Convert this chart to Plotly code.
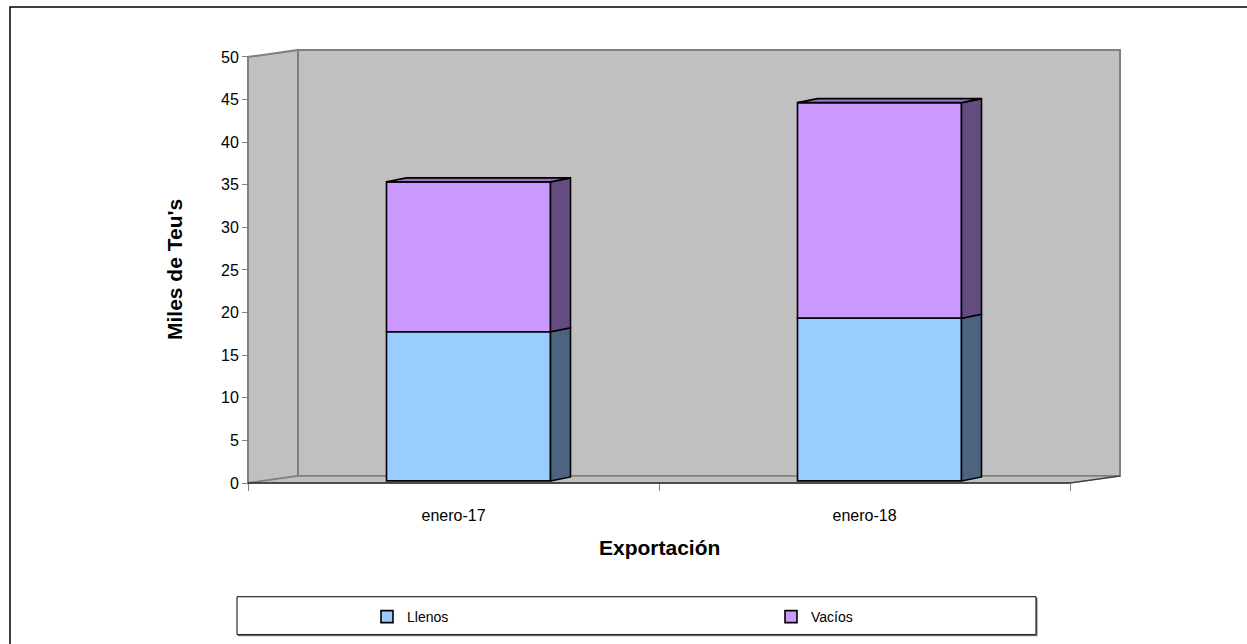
import plotly.graph_objects as go

# ---- data ----
categories = ["enero-17", "enero-18"]
llenos = [17.5, 19.1]
vacios = [17.6, 25.3]
series_names = ["Llenos", "Vacíos"]
y_ticks = [0, 5, 10, 15, 20, 25, 30, 35, 40, 45, 50]
x_title = "Exportación"
y_title = "Miles de Teu's"

# ---- layout constants (pixels of the reference) ----
W, H = 1247, 644
SX = 411.0          # px per category unit
SY = 8.54           # px per y unit
X0PX, Y0PX = 248.0, 484.0   # pixel of (x=-0.5, y=0)
DX, DY = 50 / SX, 7 / SY    # wall depth
PADX, PADY = 4 / SX, 3 / SY
BOFFX, BOFFY = 15 / SX, 2.1 / SY   # bar front-face depth offset
SDX, SDY = 20 / SX, 4 / SY         # bar depth
BW = 164 / SX
YMAX = 50

xr = [-0.5 - PADX, 1.5 + DX + PADX]
yr = [-PADY, YMAX + DY + PADY]
plot_left = X0PX - PADX * SX
plot_w = (xr[1] - xr[0]) * SX
plot_bottom = Y0PX + PADY * SY
plot_h = (yr[1] - yr[0]) * SY
ml, mr = plot_left, W - plot_left - plot_w
mb, mt = H - plot_bottom, plot_bottom - plot_h


def px2paper(px, py):
    return (px - plot_left) / plot_w, (plot_bottom - py) / plot_h


FONT = "Arial, Liberation Sans, sans-serif"
front_cols = ["#99CCFF", "#CC99FF"]
side_cols = ["#4D6480", "#654C80"]
top_col = "#9A73C2"

fig = go.Figure()

xpos = [i + BOFFX for i in range(len(categories))]
bases = [[BOFFY] * len(categories), [BOFFY + l for l in llenos]]
vals = [llenos, vacios]

for k, (name, v) in enumerate(zip(series_names, vals)):
    fig.add_trace(go.Bar(
        x=xpos, y=v, base=bases[k], width=BW, name=name,
        marker=dict(color=front_cols[k], line=dict(color="black", width=1.6)),
        legend="legend" if k == 0 else "legend2",
        hoverinfo="skip",
    ))

# side faces
for k, v in enumerate(vals):
    xs, ys = [], []
    for i in range(len(categories)):
        b = bases[k][i]
        t = b + v[i]
        xr_ = xpos[i] + BW / 2
        xs += [xr_, xr_ + SDX, xr_ + SDX, xr_, xr_, None]
        ys += [b, b + SDY, t + SDY, t, b, None]
    fig.add_trace(go.Scatter(
        x=xs, y=ys, mode="lines", fill="toself", fillcolor=side_cols[k],
        line=dict(color="black", width=1.6), showlegend=False, hoverinfo="skip",
    ))

# top faces
xs, ys = [], []
for i in range(len(categories)):
    t = bases[1][i] + vacios[i]
    xl_ = xpos[i] - BW / 2
    xr_ = xpos[i] + BW / 2
    xs += [xl_, xl_ + SDX, xr_ + SDX, xr_, xl_, None]
    ys += [t, t + SDY, t + SDY, t, t, None]
fig.add_trace(go.Scatter(
    x=xs, y=ys, mode="lines", fill="toself", fillcolor=top_col,
    line=dict(color="black", width=1.6), showlegend=False, hoverinfo="skip",
))

wall = "#C0C0C0"
edge = "#808080"
shapes = []
# back wall
shapes.append(dict(type="rect", xref="x", yref="y", x0=-0.5 + DX, x1=1.5 + DX, y0=DY, y1=YMAX + DY,
                   fillcolor=wall, line=dict(color=edge, width=2), layer="below"))
# left wall
shapes.append(dict(type="path", xref="x", yref="y",
                   path=f"M{-0.5},0 L{-0.5},{YMAX} L{-0.5 + DX},{YMAX + DY} L{-0.5 + DX},{DY} Z",
                   fillcolor=wall, line=dict(color=edge, width=2), layer="below"))
# floor
shapes.append(dict(type="path", xref="x", yref="y",
                   path=f"M{-0.5},0 L{-0.5 + DX},{DY} L{1.5 + DX},{DY} L{1.5},0 Z",
                   fillcolor=wall, line=dict(color=edge, width=1.5), layer="below"))
# front floor edge
shapes.append(dict(type="line", xref="x", yref="y", x0=-0.5, x1=1.5, y0=0, y1=0,
                   line=dict(color="black", width=1.2), layer="above"))
shapes.append(dict(type="line", xref="x", yref="y", x0=1.5, x1=1.5 + DX, y0=0, y1=DY,
                   line=dict(color="#303030", width=1.2), layer="above"))

# legend box
lx0, ly0 = px2paper(237, 636)
lx1, ly1 = px2paper(1036, 598)
sx0, sy0 = px2paper(238, 637.5)
sx1, sy1 = px2paper(1037.5, 599)
shapes.append(dict(type="rect", xref="paper", yref="paper", x0=sx0, x1=sx1, y0=sy0, y1=sy1,
                   fillcolor="#808080", line=dict(width=0), layer="below"))
shapes.append(dict(type="rect", xref="paper", yref="paper", x0=lx0, x1=lx1, y0=ly0, y1=ly1,
                   fillcolor="white", line=dict(color="black", width=1), layer="below"))
# outer chart border
bx0, by0 = px2paper(10, 660)
bx1, by1 = px2paper(1270, 7)
shapes.append(dict(type="rect", xref="paper", yref="paper", x0=bx0, x1=bx1, y0=by0, y1=by1,
                   line=dict(color="black", width=1.5), layer="below"))

leg1x, legy = px2paper(367, 617)
leg2x, _ = px2paper(771, 617)

# x-axis title centred under the front floor edge
tx, ty = px2paper(X0PX + SX, 549)
annotations = [dict(text=f"<b>{x_title}</b>", xref="paper", yref="paper", x=tx, y=ty,
                    xanchor="center", yanchor="middle", showarrow=False,
                    font=dict(size=21, family=FONT, color="black"))]
ax_, ay_ = px2paper(175, Y0PX - YMAX * SY / 2)
annotations.append(dict(text=f"<b>{y_title}</b>", xref="paper", yref="paper", x=ax_, y=ay_,
                        xanchor="center", yanchor="middle", showarrow=False, textangle=-90,
                        font=dict(size=21, family=FONT, color="black")))

fig.update_layout(
    width=W, height=H,
    margin=dict(l=ml, r=mr, t=mt, b=mb, pad=0),
    paper_bgcolor="white", plot_bgcolor="white",
    barmode="overlay",
    font=dict(family=FONT, size=14, color="black"),
    shapes=shapes,
    annotations=annotations,
    legend=dict(x=leg1x, y=legy, xanchor="left", yanchor="middle", bgcolor="rgba(0,0,0,0)",
                font=dict(size=14), borderwidth=0),
    legend2=dict(x=leg2x, y=legy, xanchor="left", yanchor="middle", bgcolor="rgba(0,0,0,0)",
                 font=dict(size=14), borderwidth=0),
    xaxis=dict(
        range=xr, tickmode="array", tickvals=[0, 1], ticktext=categories,
        ticks="outside", ticklen=18, tickcolor="rgba(0,0,0,0)",
        minor=dict(tickmode="array", tickvals=[-0.5, 0.5, 1.5], ticks="outside",
                   ticklen=7, tickcolor="#808080", tickwidth=1),
        showgrid=False, zeroline=False, showline=False,
        anchor="free", position=PADY / (yr[1] - yr[0]),
        tickfont=dict(size=16), fixedrange=True,
    ),
    yaxis=dict(
        range=yr, tickmode="array", tickvals=y_ticks,
        ticks="outside", ticklen=6, tickcolor="#808080", tickwidth=1,
        showgrid=False, zeroline=False, showline=False,
        anchor="free", position=PADX / (xr[1] - xr[0]),
        tickfont=dict(size=16), fixedrange=True,
    ),
)

fig.write_html("out.html", config={"displayModeBar": False},
               post_script="document.body.style.margin='0px';")
